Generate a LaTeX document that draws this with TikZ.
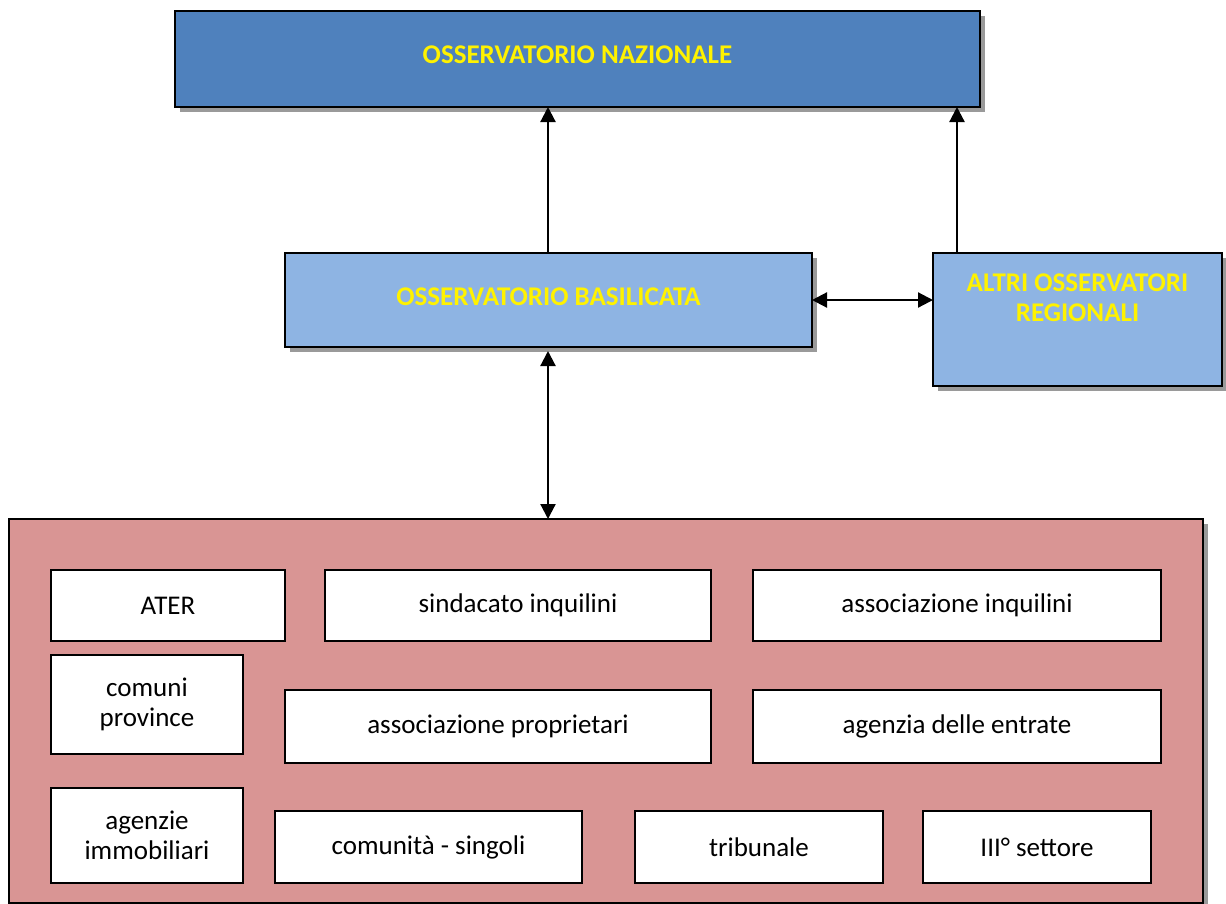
\documentclass[tikz,border=0pt]{standalone}
\usepackage{fontspec}
\setmainfont{Carlito}
\usetikzlibrary{arrows.meta,shadows}
\definecolor{natblue}{HTML}{4F81BD}
\definecolor{regblue}{HTML}{8EB4E3}
\definecolor{pinkfill}{HTML}{D99594}
\definecolor{shadowgray}{HTML}{9A9A9A}
\tikzset{
  obsbox/.style={draw=black, line width=2pt, inner sep=0pt, outer sep=0pt,
    drop shadow={shadow xshift=5pt, shadow yshift=-5pt, fill=shadowgray, opacity=1}},
  obstext/.style={text=yellow, font=\fontsize{27}{30}\selectfont\bfseries, align=center},
  entbox/.style={draw=black, fill=white, line width=1.8pt, inner sep=0pt, outer sep=0pt},
  enttext/.style={font=\fontsize{27}{30}\selectfont, align=center},
  conn/.style={line width=2.2pt, -{Triangle[length=15pt,width=15pt]}},
  dconn/.style={line width=2.2pt, {Triangle[length=15pt,width=15pt]}-{Triangle[length=15pt,width=15pt]}},
}
\begin{document}
\begin{tikzpicture}[x=1pt,y=-1pt]
\useasboundingbox (0,0) rectangle (1226,903);
% Observatories
\node[obsbox, fill=natblue, minimum width=805pt, minimum height=96pt] (naz) at (577.5,59) {};
\node[obstext] (nazt) at (577.5,55) {OSSERVATORIO NAZIONALE};
\node[obsbox, fill=regblue, minimum width=527pt, minimum height=94pt] (bas) at (548.5,300) {};
\node[obstext] (bast) at (548.5,297) {OSSERVATORIO BASILICATA};
\node[obsbox, fill=regblue, minimum width=289pt, minimum height=133pt] (alt) at (1077.5,319.5) {};
\node[obstext] (altt) at (1077.5,298) {ALTRI OSSERVATORI\\REGIONALI};
% Actors container
\node[obsbox, fill=pinkfill, line width=1.5pt, minimum width=1194pt, minimum height=384pt] (act) at (606,711) {};
% Entities
\node[entbox, minimum width=234pt, minimum height=71pt] (ater) at (168,605.5) {};
\node[enttext] (atert) at (ater) {ATER};
\node[entbox, minimum width=386pt, minimum height=71pt] (sind) at (518,605.5) {};
\node[enttext] (sindt) at (sind) {sindacato inquilini};
\node[entbox, minimum width=408pt, minimum height=71pt] (assinq) at (957,605.5) {};
\node[enttext] (assinqt) at (assinq) {associazione inquilini};
\node[entbox, minimum width=192pt, minimum height=99pt] (com) at (147,704.5) {};
\node[enttext] (comt) at (com) {comuni\\province};
\node[entbox, minimum width=426pt, minimum height=73pt] (assprop) at (498,726.5) {};
\node[enttext] (asspropt) at (assprop) {associazione proprietari};
\node[entbox, minimum width=408pt, minimum height=73pt] (agent) at (957,726.5) {};
\node[enttext] (agentt) at (agent) {agenzia delle entrate};
\node[entbox, minimum width=192pt, minimum height=95pt] (agimm) at (147,835.5) {};
\node[enttext] (agimmt) at (agimm) {agenzie\\immobiliari};
\node[entbox, minimum width=307pt, minimum height=72pt] (cs) at (428.5,847) {};
\node[enttext] (cst) at (cs) {comunità - singoli};
\node[entbox, minimum width=248pt, minimum height=72pt] (trib) at (759,847) {};
\node[enttext] (tribt) at (trib) {tribunale};
\node[entbox, minimum width=228pt, minimum height=72pt] (terzo) at (1037,847) {};
\node[enttext] (terzot) at (terzo) {III° settore};
% Connectors
\coordinate (basx) at (548,0);
\coordinate (altx) at (957,0);
\draw[conn] (bas.north -| basx) -- (naz.south -| basx);
\draw[conn] (alt.north -| altx) -- (naz.south -| altx);
\draw[dconn] (bas.east) -- (bas.east -| alt.west);
\draw[dconn] ([yshift=-4pt]bas.south -| basx) -- (act.north -| basx);
\end{tikzpicture}
\end{document}
